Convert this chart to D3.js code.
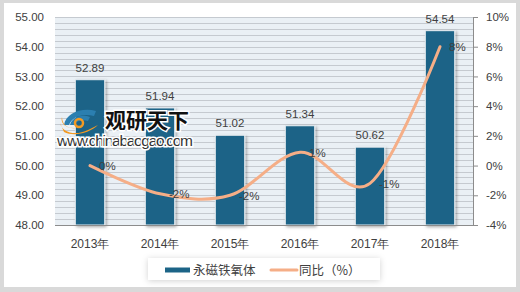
<!DOCTYPE html>
<html><head><meta charset="utf-8">
<script src="https://cdn.jsdelivr.net/npm/d3@7"></script>
<style>
html,body{margin:0;padding:0;background:#fff;}
svg{display:block;font-family:"Liberation Sans","DejaVu Sans",sans-serif;}
</style></head>
<body>
<svg id="chart" width="520" height="292"></svg>
<script>
const categories = ["2013年","2014年","2015年","2016年","2017年","2018年"];
const barValues = [52.89, 51.94, 51.02, 51.34, 50.62, 54.54];
const yoyValues = [0, -1.9, -2.0, 0.9, -1.2, 8.0];
const leftTicks = [48, 49, 50, 51, 52, 53, 54, 55];
const rightTicks = [-4, -2, 0, 2, 4, 6, 8, 10];
const seriesNames = ["永磁铁氧体", "同比（%）"];

const svg = d3.select("#chart");
const W = 520, H = 292;
const plot = {l:55, r:473, t:17, b:225};
const barColor = "#1c6487", lineColor = "#f5ae87", textColor = "#404040";

const defs = svg.append("defs");
const sh = defs.append("filter").attr("id","shadow").attr("x","-20%").attr("y","-20%").attr("width","140%").attr("height","140%");
sh.append("feDropShadow").attr("dx",1.5).attr("dy",1.5).attr("stdDeviation",1.5).attr("flood-color","#000").attr("flood-opacity",0.35);
const sh2 = defs.append("filter").attr("id","lshadow").attr("x","-10%").attr("y","-40%").attr("width","120%").attr("height","180%");
sh2.append("feDropShadow").attr("dx",0).attr("dy",1).attr("stdDeviation",3).attr("flood-color","#000").attr("flood-opacity",0.18);

// outer frame
svg.append("rect").attr("x",0).attr("y",0).attr("width",W).attr("height",H).attr("fill","#d9d9d9");
svg.append("rect").attr("x",4).attr("y",3).attr("width",W-8).attr("height",H-8).attr("fill","#ffffff");

const x = d3.scaleBand().domain(categories).range([plot.l, 475]).paddingInner(0.58).paddingOuter(0.29);
const y = d3.scaleLinear().domain([48, 55]).range([plot.b, plot.t]);
const y2 = d3.scaleLinear().domain([-4, 10]).range([plot.b, plot.t]);

// plot background
svg.append("rect").attr("x",plot.l).attr("y",plot.t).attr("width",plot.r-plot.l).attr("height",plot.b-plot.t).attr("fill","#eaf0f5");
// stripes every 0.2
const stripes = d3.range(48.2, 55.01, 0.2);
svg.append("g").selectAll("line").data(stripes).join("line")
  .attr("x1",plot.l).attr("x2",plot.r)
  .attr("y1",d=>Math.round(y(d))+0.5).attr("y2",d=>Math.round(y(d))+0.5)
  .attr("stroke","#c5cad0").attr("stroke-width",1);

// left axis labels
const gl = svg.append("g").attr("transform",`translate(${plot.l},0)`)
  .call(d3.axisLeft(y).tickValues(leftTicks).tickFormat(d3.format(".2f")).tickSize(0).tickPadding(11));
gl.select(".domain").remove();
gl.selectAll("text").attr("font-size",11.5).attr("fill",textColor).attr("font-family","Liberation Sans, sans-serif");

// right axis
const gr = svg.append("g").attr("transform",`translate(${plot.r},0)`)
  .call(d3.axisRight(y2).tickValues(rightTicks).tickFormat(d=>d+"%").tickSize(5).tickPadding(8));
gr.select(".domain").attr("stroke","#8c8c8c");
gr.selectAll(".tick line").attr("stroke","#8c8c8c");
gr.selectAll("text").attr("font-size",11.5).attr("fill",textColor);

// bars
svg.append("g").selectAll("rect").data(barValues).join("rect")
  .attr("x",(d,i)=>x(categories[i])).attr("width",x.bandwidth())
  .attr("y",d=>y(d)).attr("height",d=>plot.b-y(d))
  .attr("fill",barColor).attr("stroke","#e9eef2").attr("stroke-width",1)
  .attr("filter","url(#shadow)");

// bottom axis
const gb = svg.append("g").attr("transform",`translate(0,${plot.b})`)
  .call(d3.axisBottom(x).tickSize(0).tickPadding(14));
gb.select(".domain").attr("stroke","#8c8c8c").attr("d",`M${plot.l},0.5H${plot.r}`);
gb.selectAll("text").attr("font-size",12).attr("fill",textColor);

// bar labels
svg.append("g").selectAll("text").data(barValues).join("text")
  .attr("x",(d,i)=>x(categories[i])+x.bandwidth()/2).attr("y",d=>y(d)-8)
  .attr("text-anchor","middle").attr("font-size",11.5).attr("fill",textColor)
  .text(d=>d.toFixed(2));

// watermark
const wm = svg.append("g");
const lg = wm.append("g").attr("transform","translate(60,103)");
lg.append("path").attr("d","M4,22 C6,10 22,4 36,8 L34,13 C24,10 12,13 9,22 Z").attr("fill","#2b7fb0");
lg.append("path").attr("d","M10,22 C12,14 22,11 30,14 L28,18 C22,16 16,18 15,22 Z").attr("fill","#2b7fb0");
lg.append("path").attr("d","M0,20 C2,30 16,33 28,27 L38,22 C30,30 14,34 4,29 Z").attr("fill","#f39a22");
lg.append("path").attr("d","M2,14 C0,20 6,26 16,25 L22,23 C12,28 2,24 2,14 Z").attr("fill","#f39a22");
lg.append("circle").attr("cx",19).attr("cy",20).attr("r",4).attr("fill","none").attr("stroke","#f39a22").attr("stroke-width",2.5);
wm.append("text").attr("x",105).attr("y",128).attr("font-size",21).attr("font-weight","bold")
  .attr("font-family","Noto Sans CJK SC, sans-serif").attr("fill","#111")
  .attr("stroke","#fff").attr("stroke-width",3).attr("paint-order","stroke").text("观研天下");
wm.append("text").attr("x",57).attr("y",146).attr("font-size",15.5).attr("textLength",136)
  .attr("font-family","Liberation Sans, sans-serif").attr("fill","#333")
  .attr("stroke","#fff").attr("stroke-width",3).attr("paint-order","stroke").text("www.chinabaogao.com");

// line
const line = d3.line().x((d,i)=>x(categories[i])+x.bandwidth()/2).y(d=>y2(d)).curve(d3.curveCatmullRom.alpha(0));
svg.append("path").datum(yoyValues).attr("d",line).attr("fill","none")
  .attr("stroke",lineColor).attr("stroke-width",3).attr("stroke-linecap","round");

// line labels
svg.append("g").selectAll("text").data(yoyValues).join("text")
  .attr("x",(d,i)=>x(categories[i])+x.bandwidth()/2+9).attr("y",d=>y2(d)+4.5)
  .attr("font-size",11.5).attr("fill",textColor)
  .text(d=>Math.round(d)+"%");

// legend
const lgd = svg.append("g");
lgd.append("rect").attr("x",148).attr("y",258).attr("width",232).attr("height",22).attr("fill","#fff").attr("filter","url(#lshadow)");
lgd.append("line").attr("x1",165).attr("x2",190).attr("y1",270).attr("y2",270).attr("stroke",barColor).attr("stroke-width",5);
lgd.append("text").attr("x",193).attr("y",274.5).attr("font-size",12.5).attr("fill",textColor).attr("font-family","Noto Sans CJK SC, sans-serif").text(seriesNames[0]);
lgd.append("line").attr("x1",271).attr("x2",297).attr("y1",270).attr("y2",270).attr("stroke",lineColor).attr("stroke-width",3).attr("stroke-linecap","round");
lgd.append("text").attr("x",299).attr("y",274.5).attr("font-size",12.5).attr("fill",textColor).attr("font-family","Noto Sans CJK SC, sans-serif").text(seriesNames[1]);
</script>
</body></html>
